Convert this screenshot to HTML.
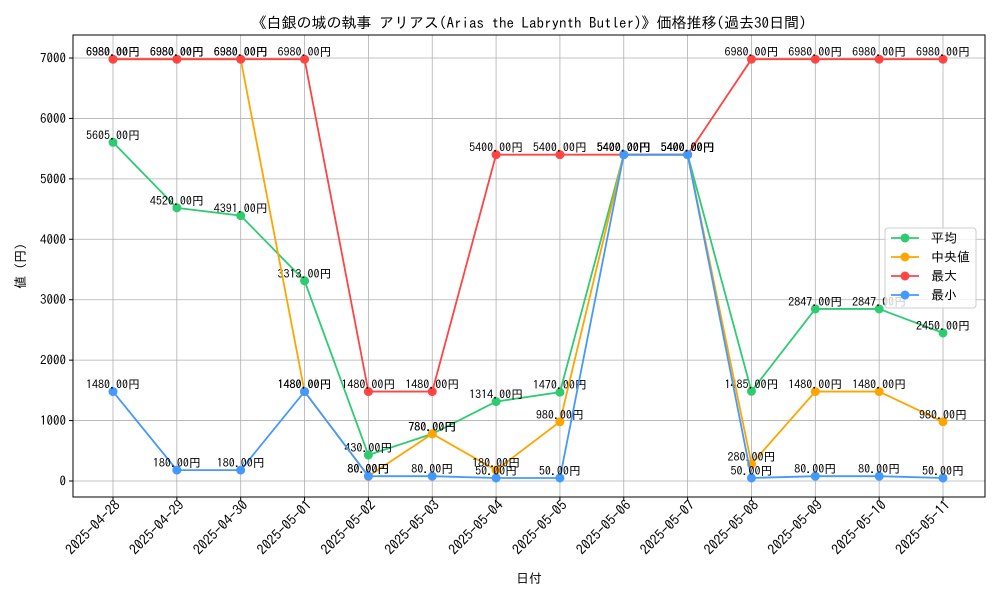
<!DOCTYPE html>
<html><head><meta charset="utf-8"><style>
body{margin:0;background:#fff;}
svg text{font-family:"IPAGothic","Liberation Sans","Noto Sans CJK JP",sans-serif;}
</style></head><body>
<svg id="chart" width="1000" height="600" xmlns="http://www.w3.org/2000/svg"></svg>
<script>
const categories=["2025-04-28","2025-04-29","2025-04-30","2025-05-01","2025-05-02","2025-05-03","2025-05-04","2025-05-05","2025-05-06","2025-05-07","2025-05-08","2025-05-09","2025-05-10","2025-05-11"];
const avgValues=[5605,4520,4391,3313,430,780,1314,1470,5400,5400,1485,2847,2847,2450];
const medianValues=[6980,6980,6980,1480,80,780,180,980,5400,5400,280,1480,1480,980];
const maxValues=[6980,6980,6980,6980,1480,1480,5400,5400,5400,5400,6980,6980,6980,6980];
const minValues=[1480,180,180,1480,80,80,50,50,5400,5400,50,80,80,50];
const yTicks=[0,1000,2000,3000,4000,5000,6000,7000];
const seriesNames=["平均","中央値","最大","最小"];

const NS="http://www.w3.org/2000/svg";
const svg=document.getElementById('chart');
const L=73,R=985,T=35,B=497;
const xs=i=>113+i*(943-113)/(categories.length-1);
const ys=v=>481-v*(481-58)/7000;
function el(tag,attrs,parent){const e=document.createElementNS(NS,tag);for(const k in attrs)e.setAttribute(k,attrs[k]);(parent||svg).appendChild(e);return e;}

yTicks.forEach(v=>{
  const g=el('line',{x1:L,x2:R,y1:ys(v),y2:ys(v),stroke:'#b0b0b0','stroke-width':0.8});
  
  
  el('line',{x1:L-4,x2:L,y1:ys(v),y2:ys(v),stroke:'#000'});
  const t=el('text',{x:L-7,y:ys(v)+4.5,'text-anchor':'end','font-size':13});
  t.textContent=v;
  
  
});
categories.forEach((c,i)=>{
  const g=el('line',{x1:xs(i),x2:xs(i),y1:T,y2:B,stroke:'#b0b0b0','stroke-width':0.8});
  
  
  el('line',{x1:xs(i),x2:xs(i),y1:B,y2:B+4,stroke:'#000'});
  const px=xs(i)+8, py=B+9;
  const t=el('text',{x:px,y:py,'text-anchor':'end','font-size':14,transform:`rotate(-45 ${px} ${py})`});
  t.textContent=c;
  
  
});
const frame=el('rect',{x:L,y:T,width:R-L,height:B-T,fill:'none',stroke:'#000','stroke-width':1});



const series=[[avgValues,'#2ecc71','avg'],[medianValues,'#ffa500','median'],[maxValues,'#ff4444','max'],[minValues,'#4499ff','min']];
series.forEach(([vals,col,nm])=>{
  const p=el('polyline',{points:vals.map((v,i)=>xs(i)+','+ys(v)).join(' '),fill:'none',stroke:col,'stroke-width':1.8});
  
  
  vals.forEach((v,i)=>{
    const c=el('circle',{cx:xs(i),cy:ys(v),r:4.5,fill:col});
    
    
    const t=el('text',{x:xs(i),y:ys(v)-3,'text-anchor':'middle','font-size':12});
    t.textContent=v.toFixed(2)+'円';
    
    
  });
});

const lg=el('g',{});


el('rect',{x:885,y:228,width:91,height:80,fill:'#fff','fill-opacity':0.8,stroke:'#ccc',rx:3},lg);
series.forEach(([v,col,nm],i)=>{
  const y=238+i*19;
  el('line',{x1:891,x2:919,y1:y,y2:y,stroke:col,'stroke-width':1.8},lg);
  el('circle',{cx:905,cy:y,r:4.5,fill:col},lg);
  const t=el('text',{x:931,y:y+4.5,'font-size':13},lg);
  t.textContent=seriesNames[i];
  
  
});

const title=el('text',{x:529,y:28,'text-anchor':'middle','font-size':15});
title.textContent='《白銀の城の執事 アリアス(Arias the Labrynth Butler)》価格推移(過去30日間)';


const xt=el('text',{x:529,y:583,'text-anchor':'middle','font-size':13});
xt.textContent='日付';


const yt=el('text',{x:25,y:266,'text-anchor':'middle','font-size':13,transform:'rotate(-90 25 266)'});
yt.textContent='値 (円)';


</script>
</body></html>
